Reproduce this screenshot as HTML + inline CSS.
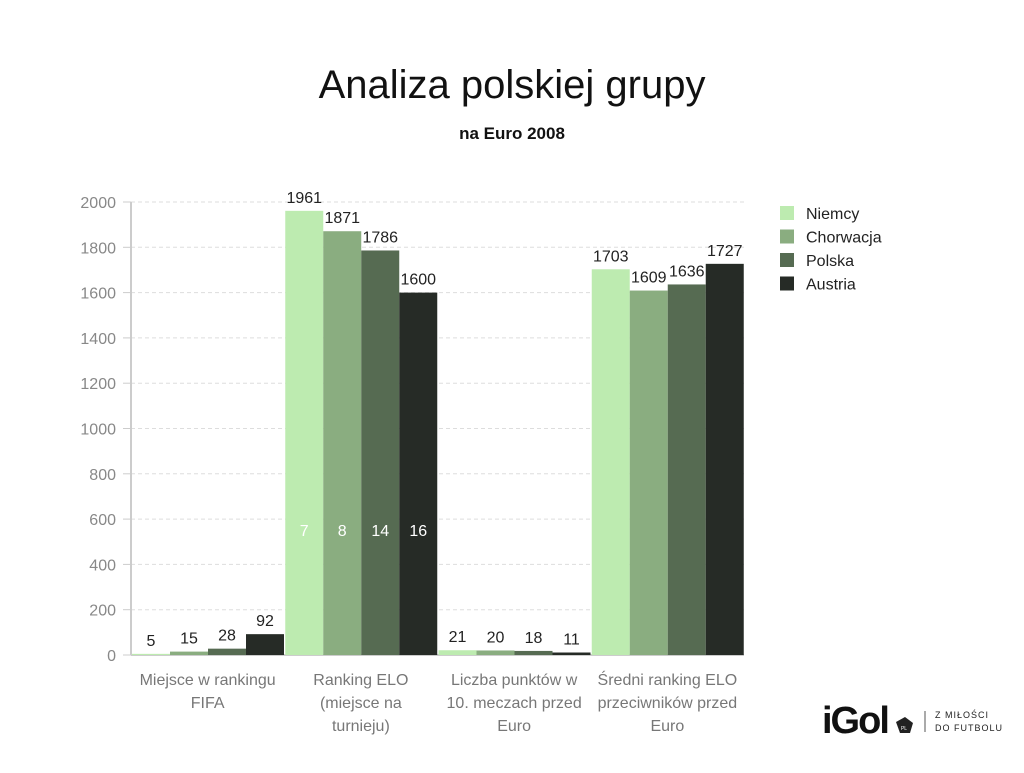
<!DOCTYPE html>
<html><head><meta charset="utf-8"><style>
body{margin:0;background:#fff;font-family:"Liberation Sans",sans-serif}
</style></head><body>
<svg id="c" width="1024" height="768" xmlns="http://www.w3.org/2000/svg">
<text x="512" y="98" text-anchor="middle" font-size="40" fill="#111">Analiza polskiej grupy</text>
<text x="512" y="139" text-anchor="middle" font-size="17" font-weight="bold" fill="#111">na Euro 2008</text>
<g id="grid"></g><g id="bars"></g><g id="labels"></g>
<g id="legend"></g>
<g>
<text x="822" y="733" font-size="38" font-weight="bold" fill="#111" letter-spacing="-2">iGol</text>
<path d="M896 722 l9 -5 l8 6 l-3 10 l-10 0 z" fill="#222"/>
<text x="904" y="730" font-size="5" fill="#fff" text-anchor="middle">PL</text>
<line x1="925" y1="711" x2="925" y2="732" stroke="#555" stroke-width="1"/>
<text x="935" y="718" font-size="9" fill="#222" letter-spacing="1">Z MIŁOŚCI</text>
<text x="935" y="731" font-size="9" fill="#222" letter-spacing="1">DO FUTBOLU</text>
</g>
</svg>
<script>
const categories=[["Miejsce w rankingu","FIFA"],["Ranking ELO","(miejsce na","turnieju)"],["Liczba punktów w","10. meczach przed","Euro"],["Średni ranking ELO","przeciwników przed","Euro"]];
const seriesNames=["Niemcy","Chorwacja","Polska","Austria"];
const niemcy=[5,1961,21,1703];
const chorwacja=[15,1871,20,1609];
const polska=[28,1786,18,1636];
const austria=[92,1600,11,1727];
const eloPlaces=[7,8,14,16];
const yTicks=[0,200,400,600,800,1000,1200,1400,1600,1800,2000];
const colors=["#bdebb0","#8aad80","#566b52","#262b26"];
const series=[niemcy,chorwacja,polska,austria];
const NS="http://www.w3.org/2000/svg";
const x0=131,x1=744,yb=655,yt=202;
const y=v=>yb-(v/2000)*(yb-yt);
const gw=(x1-x0)/categories.length, bw=38;
function mk(tag,attrs,parent,txt){const e=document.createElementNS(NS,tag);for(const k in attrs)e.setAttribute(k,attrs[k]);if(txt!==undefined)e.textContent=txt;parent.appendChild(e);return e;}
const grid=document.getElementById('grid'),bars=document.getElementById('bars'),labels=document.getElementById('labels'),legend=document.getElementById('legend');
yTicks.forEach(t=>{
 if(t>0){const l=mk('line',{x1:x0,x2:x1,y1:y(t),y2:y(t),stroke:'#ddd','stroke-dasharray':'4,3'},grid);
 }
 mk('line',{x1:x0-8,x2:x0,y1:y(t),y2:y(t),stroke:'#ccc'},grid);
 const tx=mk('text',{x:x0-15,y:y(t)+6,'text-anchor':'end','font-size':16,fill:'#888'},grid,t);
 
});
const ax=mk('line',{x1:x0,x2:x0,y1:yt,y2:yb,stroke:'#ccc','stroke-width':2},grid);

const bx=mk('line',{x1:x0,x2:x1,y1:yb,y2:yb,stroke:'#ccc','stroke-width':2},grid);

categories.forEach((c,i)=>{
 const gx=x0+i*gw;
 series.forEach((s,j)=>{
  const v=s[i],bx0=gx+1+j*bw;
  const r=mk('rect',{x:bx0,y:y(v),width:bw,height:yb-y(v),fill:colors[j]},bars);
  
  
  const t=mk('text',{x:bx0+bw/2,y:y(v)-8,'text-anchor':'middle','font-size':16,fill:'#222'},labels,v);
  
  if(i===1){const p=mk('text',{x:bx0+bw/2,y:536,'text-anchor':'middle','font-size':16,fill:'#fff'},labels,eloPlaces[j]);
   }
 });
 c.forEach((ln,k)=>{const t=mk('text',{x:gx+gw/2,y:685+k*23,'text-anchor':'middle','font-size':16,fill:'#777'},labels,ln);
  });
});
seriesNames.forEach((n,j)=>{
 const gy=213+j*23.5;
 const g=mk('g',{},legend);
 
 mk('rect',{x:780,y:gy-7,width:14,height:14,fill:colors[j]},g);
 mk('text',{x:806,y:gy+6,'font-size':16,fill:'#222'},g,n);
});
</script>
</body></html>
